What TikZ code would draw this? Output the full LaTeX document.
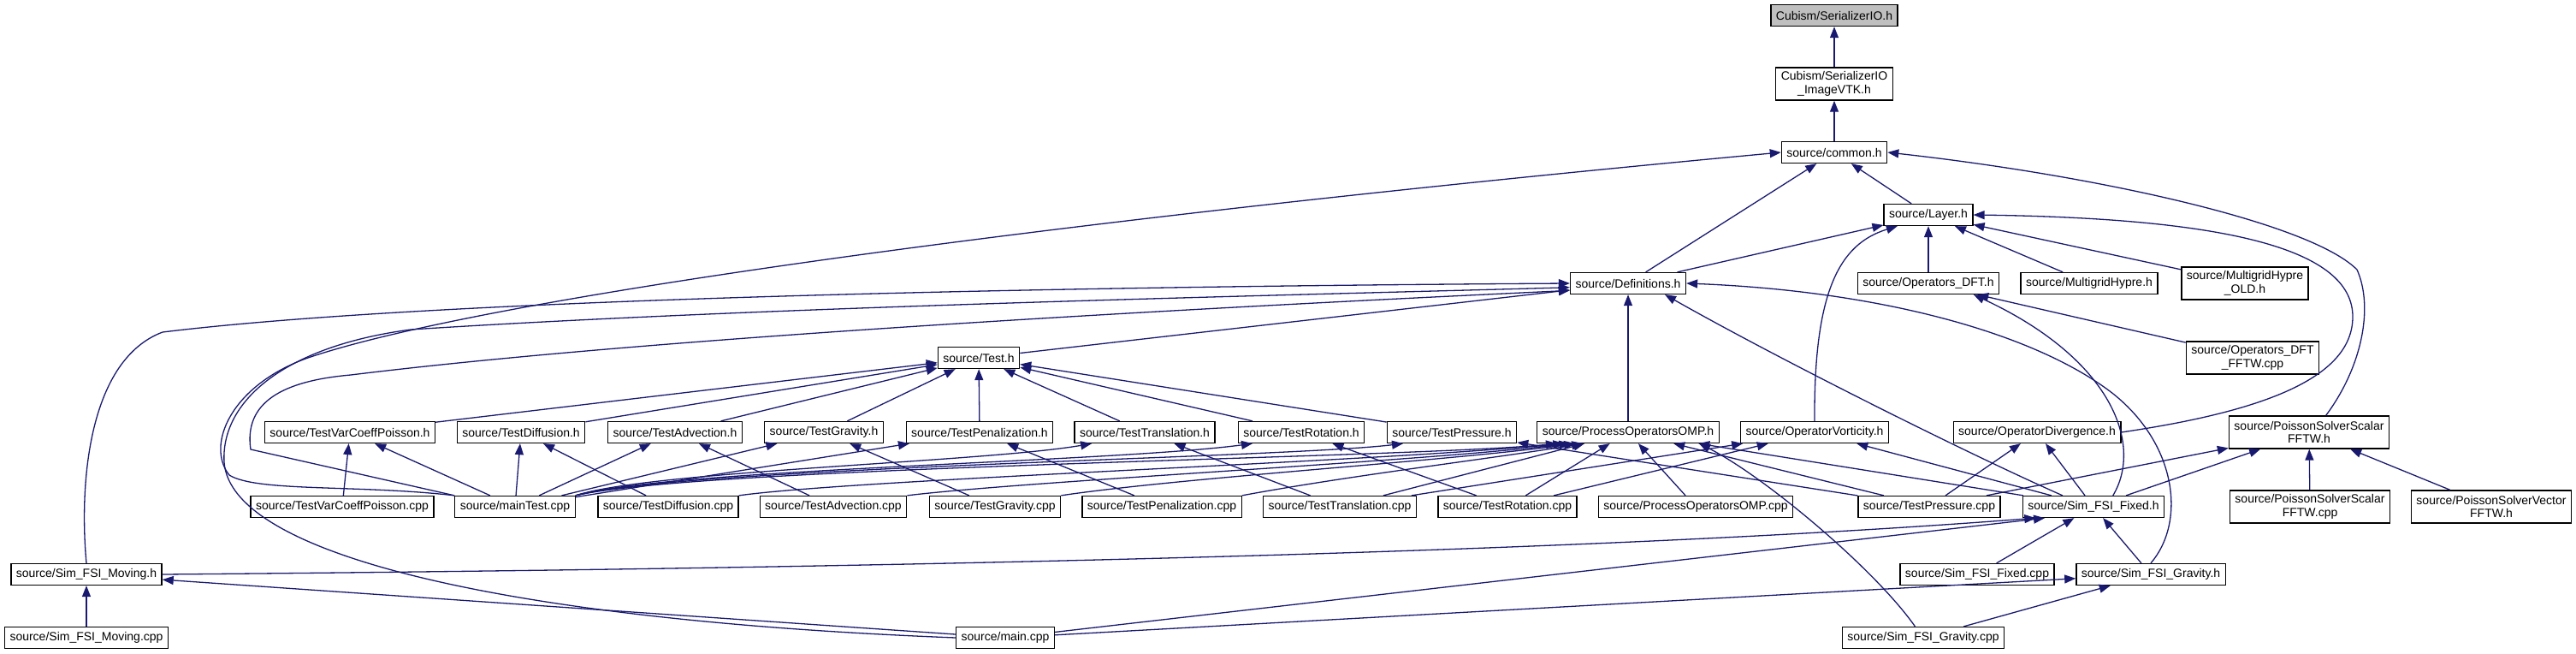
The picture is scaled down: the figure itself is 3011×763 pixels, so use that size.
\documentclass[tikz,border=0pt]{standalone}
\usepackage{fontspec}
\setmainfont{Liberation Sans}
\usepackage{xcolor}
\usepackage{tikz}
\usetikzlibrary{arrows.meta}
\definecolor{AzulArista}{RGB}{25,25,112}
\definecolor{GrisRaiz}{RGB}{191,191,191}

\begin{document}
\begin{tikzpicture}[x=1pt,y=-1pt,
  archivo/.style={draw=black,fill=white,line width=1.3pt,inner xsep=6pt,inner ysep=0pt,
    minimum height=25pt,align=center,font=\fontsize{14}{15.5}\selectfont},
  doble/.style={archivo,minimum height=38pt},
  raiz/.style={archivo,fill=GrisRaiz},
  incluye/.style={draw=AzulArista,line width=1.3pt,-{Triangle[length=13pt,width=10pt]}}]
  \useasboundingbox (0,0) rectangle (3011,763);

  \node[raiz] (serial) at (2144,18) {Cubism/SerializerIO.h};
  \node[doble] (imagevtk) at (2144,98) {Cubism/SerializerIO\\\_ImageVTK.h};
  \node[archivo] (common) at (2144,178) {source/common.h};
  \node[archivo] (layer) at (2254,251) {source/Layer.h};
  \node[archivo] (defs) at (1903,331) {source/Definitions.h};
  \node[archivo] (dft) at (2254,331) {source/Operators\_DFT.h};
  \node[archivo] (hypre) at (2442,331) {source/MultigridHypre.h};
  \node[doble] (hypreold) at (2624,331) {source/MultigridHypre\\\_OLD.h};
  \node[doble] (dftfftw) at (2633,418) {source/Operators\_DFT\\\_FFTW.cpp};
  \node[archivo] (test) at (1144,418) {source/Test.h};

  \node[archivo] (varh) at (409,505) {source/TestVarCoeffPoisson.h};
  \node[archivo] (diffh) at (609,505) {source/TestDiffusion.h};
  \node[archivo] (advh) at (789,505) {source/TestAdvection.h};
  \node[archivo] (gravh) at (963,505) {source/TestGravity.h};
  \node[archivo] (penh) at (1145,505) {source/TestPenalization.h};
  \node[archivo] (transh) at (1338,505) {source/TestTranslation.h};
  \node[archivo] (roth) at (1521,505) {source/TestRotation.h};
  \node[archivo] (presh) at (1697,505) {source/TestPressure.h};
  \node[archivo] (omph) at (1903,505) {source/ProcessOperatorsOMP.h};
  \node[archivo] (vorth) at (2121,505) {source/OperatorVorticity.h};
  \node[archivo] (divh) at (2381,505) {source/OperatorDivergence.h};
  \node[doble] (pssh) at (2699,505) {source/PoissonSolverScalar\\FFTW.h};

  \node[archivo] (varcpp) at (400,592) {source/TestVarCoeffPoisson.cpp};
  \node[archivo] (maintest) at (602,592) {source/mainTest.cpp};
  \node[archivo] (diffcpp) at (781,592) {source/TestDiffusion.cpp};
  \node[archivo] (advcpp) at (974,592) {source/TestAdvection.cpp};
  \node[archivo] (gravcpp) at (1163,592) {source/TestGravity.cpp};
  \node[archivo] (pencpp) at (1358,592) {source/TestPenalization.cpp};
  \node[archivo] (transcpp) at (1566,592) {source/TestTranslation.cpp};
  \node[archivo] (rotcpp) at (1762,592) {source/TestRotation.cpp};
  \node[archivo] (ompcpp) at (1982,592) {source/ProcessOperatorsOMP.cpp};
  \node[archivo] (prescpp) at (2255,592) {source/TestPressure.cpp};
  \node[archivo] (fixedh) at (2447,592) {source/Sim\_FSI\_Fixed.h};
  \node[doble] (psscpp) at (2700,592) {source/PoissonSolverScalar\\FFTW.cpp};
  \node[doble] (psvh) at (2912,592) {source/PoissonSolverVector\\FFTW.h};

  \node[archivo] (movh) at (101,671) {source/Sim\_FSI\_Moving.h};
  \node[archivo] (fixedcpp) at (2311,671) {source/Sim\_FSI\_Fixed.cpp};
  \node[archivo] (gravityh) at (2514,671) {source/Sim\_FSI\_Gravity.h};
  \node[archivo] (movcpp) at (101,745) {source/Sim\_FSI\_Moving.cpp};
  \node[archivo] (main) at (1175,745) {source/main.cpp};
  \node[archivo] (gravitycpp) at (2248,745) {source/Sim\_FSI\_Gravity.cpp};

  \draw[incluye] (imagevtk) -- (serial);
  \draw[incluye] (common) -- (imagevtk);
  \draw[incluye] (layer) -- (common);
  \draw[incluye] (defs) -- (common);
  \draw[incluye] (maintest.north west) .. controls (420,566) and (300,575) .. (268,555)
    .. controls (240,520) and (270,450) .. (360,418) .. controls (560,350) and (1200,260) .. (common.west);
  \draw[incluye] (pssh.45) .. controls (2760,430) and (2775,360) .. (2755,315)
    .. controls (2700,260) and (2450,205) .. (common.east);

  \draw[incluye] (defs) -- (layer);
  \draw[incluye] (dft) -- (layer);
  \draw[incluye] (hypre) -- (layer);
  \draw[incluye] (hypreold) -- (layer);
  \draw[incluye] (vorth.north) .. controls (2120,340) and (2150,285) .. (layer.-160);
  \draw[incluye] (divh.east) .. controls (2650,480) and (2750,440) .. (2750,370)
    .. controls (2750,290) and (2600,255) .. (layer.east);

  \draw[incluye] (test) -- (defs);
  \draw[incluye] (omph) -- (defs);
  \draw[incluye] (movh.north) .. controls (92,560) and (105,420) .. (190,388)
    .. controls (500,350) and (1200,335) .. (defs.west);
  \draw[incluye] (main.west) .. controls (600,725) and (270,650) .. (262,540)
    .. controls (258,470) and (330,405) .. (480,385) .. controls (900,358) and (1500,345) .. (defs.-176);
  \draw[incluye] (maintest.north west) -- (293,525) .. controls (285,470) and (330,445) .. (410,438)
    .. controls (800,390) and (1500,355) .. (defs.-173);
  \draw[incluye] (fixedh.160) .. controls (2300,530) and (2080,420) .. (defs.-17);
  \draw[incluye] (gravityh.north) .. controls (2555,610) and (2545,520) .. (2470,460)
    .. controls (2380,390) and (2200,340) .. (defs.east);
  \draw[incluye] (fixedh.30) .. controls (2505,520) and (2470,420) .. (dft.-14);
  \draw[incluye] (dftfftw) -- (dft);

  \draw[incluye] (varh) -- (test);
  \draw[incluye] (diffh) -- (test);
  \draw[incluye] (advh) -- (test);
  \draw[incluye] (gravh) -- (test);
  \draw[incluye] (penh) -- (test);
  \draw[incluye] (transh) -- (test);
  \draw[incluye] (roth) -- (test);
  \draw[incluye] (presh) -- (test);

  \draw[incluye] (varcpp) -- (varh);
  \draw[incluye] (diffcpp) -- (diffh);
  \draw[incluye] (advcpp) -- (advh);
  \draw[incluye] (gravcpp) -- (gravh);
  \draw[incluye] (pencpp) -- (penh);
  \draw[incluye] (transcpp) -- (transh);
  \draw[incluye] (rotcpp) -- (roth);
  \draw[incluye] (prescpp) -- (presh);
  \draw[incluye] (maintest) -- (varh);
  \draw[incluye] (maintest) -- (diffh);
  \draw[incluye] (maintest) -- (advh);
  \draw[incluye] (maintest) -- (gravh);
  \draw[incluye] (maintest) -- (penh);
  \draw[incluye] (maintest.north east) .. controls (760,550) and (1150,540) .. (transh.-168);
  \draw[incluye] (maintest.north east) .. controls (780,548) and (1300,540) .. (roth.-167);
  \draw[incluye] (maintest.north east) .. controls (800,546) and (1500,535) .. (presh.-167);
  \draw[incluye] (maintest.north east) .. controls (820,545) and (1650,535) .. (omph.-171);

  \draw[incluye] (diffcpp.north east) .. controls (1000,560) and (1600,540) .. (omph.-170);
  \draw[incluye] (advcpp.north east) .. controls (1200,562) and (1650,540) .. (omph.-169);
  \draw[incluye] (gravcpp.north east) .. controls (1380,558) and (1700,538) .. (omph.-168);
  \draw[incluye] (pencpp.north east) .. controls (1580,555) and (1750,535) .. (omph.-166);
  \draw[incluye] (transcpp) -- (omph);
  \draw[incluye] (rotcpp) -- (omph);
  \draw[incluye] (ompcpp) -- (omph);
  \draw[incluye] (prescpp) -- (omph);
  \draw[incluye] (fixedh) -- (omph);
  \draw[incluye] (gravitycpp.126) .. controls (2190,663) and (2060,555) .. (omph.-9);

  \draw[incluye] (transcpp) -- (vorth);
  \draw[incluye] (rotcpp) -- (vorth);
  \draw[incluye] (fixedh) -- (vorth);
  \draw[incluye] (prescpp) -- (divh);
  \draw[incluye] (fixedh) -- (divh);
  \draw[incluye] (prescpp) -- (pssh);
  \draw[incluye] (fixedh) -- (pssh);
  \draw[incluye] (psscpp) -- (pssh);
  \draw[incluye] (psvh) -- (pssh);

  \draw[incluye] (movh.east) .. controls (900,665) and (1800,650) .. (fixedh.-169);
  \draw[incluye] (main) -- (fixedh.-167);
  \draw[incluye] (fixedcpp) -- (fixedh);
  \draw[incluye] (gravityh) -- (fixedh);
  \draw[incluye] (main) -- (gravityh);
  \draw[incluye] (gravitycpp) -- (gravityh);
  \draw[incluye] (main) -- (movh);
  \draw[incluye] (movcpp) -- (movh);
\end{tikzpicture}
\end{document}
